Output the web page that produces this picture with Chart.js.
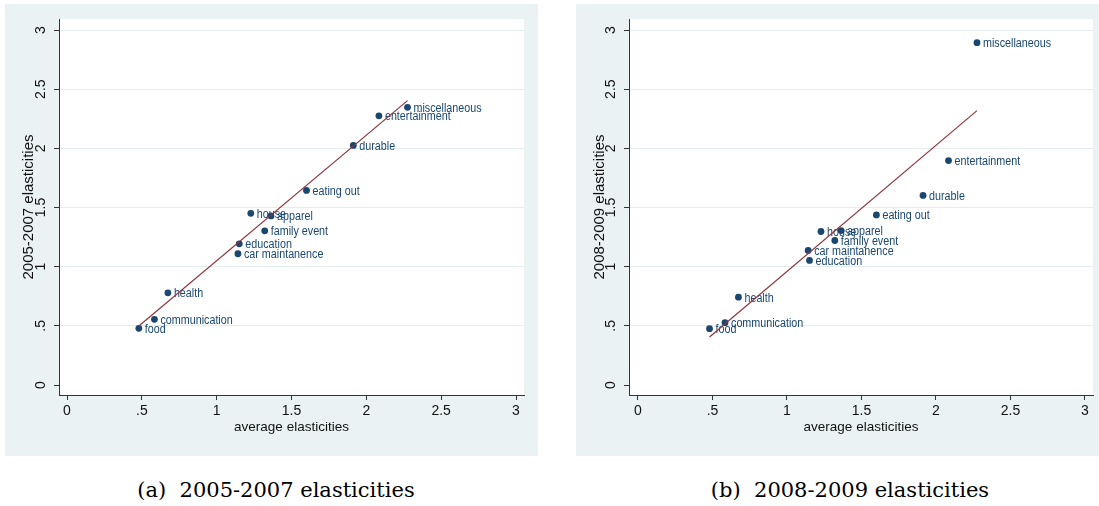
<!DOCTYPE html>
<html>
<head>
<meta charset="utf-8">
<script src="https://cdn.jsdelivr.net/npm/chart.js@4/dist/chart.umd.min.js"></script>
<style>
  html, body { margin: 0; padding: 0; background: #ffffff; width: 1099px; height: 506px; overflow: hidden; position: relative; }
  .panel { position: absolute; top: 4px; width: 533px; height: 452px; background: #eaf2f3; }
  .panel canvas { display: block; }
  .caption { position: absolute; top: 478px; width: 600px; line-height: 24px; text-align: center;
             font-family: "DejaVu Serif", "Liberation Serif", serif; font-size: 21px; color: #000; white-space: pre; }
</style>
</head>
<body>
<div class="panel" style="left:5px"><canvas id="chartA" width="533" height="452"></canvas></div>
<div class="panel" style="left:576px"><canvas id="chartB" width="533" height="452"></canvas></div>
<div class="caption" style="left:-24px">(a)  2005-2007 elasticities</div>
<div class="caption" style="left:550px">(b)  2008-2009 elasticities</div>
<script>
// Expenditure categories and their demand elasticities
const categories = ['food', 'communication', 'health', 'car maintanence', 'education', 'house',
                    'apparel', 'family event', 'eating out', 'durable', 'entertainment', 'miscellaneous'];
const averageElasticities = [0.480, 0.584, 0.674, 1.142, 1.151, 1.228, 1.363, 1.321, 1.600, 1.913, 2.084, 2.275];
const elasticities2005to2007 = [0.479, 0.555, 0.779, 1.109, 1.193, 1.451, 1.429, 1.303, 1.644, 2.025, 2.275, 2.347];
const elasticities2008to2009 = [0.476, 0.527, 0.742, 1.137, 1.053, 1.297, 1.305, 1.221, 1.437, 1.602, 1.897, 2.893];

// Linear fit endpoints (at the smallest and largest average elasticity)
const fitRange = [0.480, 2.275];
const fit2005to2007 = [0.498, 2.403];
const fit2008to2009 = [0.406, 2.319];

// Axis ticks (Stata style labels without leading zero)
const tickValues = [0, 0.5, 1, 1.5, 2, 2.5, 3];
const tickLabels = ['0', '.5', '1', '1.5', '2', '2.5', '3'];

const NAVY = '#1a476f';
const MAROON = '#90353b';
const AXIS = '#333333';
const GRID = '#e3edef';
const TEXT = '#111111';
const SANS = '"Liberation Sans", Arial, sans-serif';

// White plot region inside the tinted graph region
const plotRegion = {
  id: 'plotRegion',
  beforeDraw(chart) {
    const { ctx, chartArea: a } = chart;
    ctx.save();
    ctx.fillStyle = '#ffffff';
    ctx.fillRect(a.left, a.top, a.right - a.left, a.bottom - a.top);
    ctx.restore();
  }
};

// Category names to the right of each marker
const markerLabels = {
  id: 'markerLabels',
  afterDatasetDraw(chart, args) {
    if (chart.data.datasets[args.index].kind !== 'points') return;
    const ctx = chart.ctx;
    const names = chart.data.labels;
    ctx.save();
    ctx.font = '12.5px ' + SANS;
    ctx.fillStyle = NAVY;
    ctx.textAlign = 'left';
    ctx.textBaseline = 'middle';
    args.meta.data.forEach((pt, i) => {
      ctx.save();
      ctx.translate(pt.x + 6, pt.y + 1);
      ctx.scale(0.86, 1);
      ctx.fillText(names[i], 0, 0);
      ctx.restore();
    });
    ctx.restore();
  }
};

function setTicks(scale) {
  scale.ticks = tickValues.map(v => ({ value: v }));
}
function tickText(v) {
  const i = tickValues.indexOf(v);
  return i >= 0 ? tickLabels[i] : '';
}

function makePanel(canvasId, yValues, fitValues, yTitle, frame) {
  const points = averageElasticities.map((x, i) => ({ x: x, y: yValues[i] }));
  const fitLine = fitRange.map((x, i) => ({ x: x, y: fitValues[i] }));
  return new Chart(document.getElementById(canvasId), {
    type: 'scatter',
    data: {
      labels: categories,
      datasets: [
        {
          kind: 'fit',
          data: fitLine,
          showLine: true,
          borderColor: MAROON,
          borderWidth: 1.2,
          pointRadius: 0,
          fill: false
        },
        {
          kind: 'points',
          data: points,
          pointRadius: 3.4,
          pointBackgroundColor: NAVY,
          pointBorderColor: NAVY,
          pointBorderWidth: 0,
          showLine: false
        }
      ]
    },
    options: {
      responsive: false,
      animation: false,
      devicePixelRatio: 1,
      layout: { padding: { top: 15, right: frame.padRight, left: 0, bottom: 0 } },
      plugins: { legend: { display: false }, tooltip: { enabled: false } },
      scales: {
        x: {
          type: 'linear',
          min: frame.xMin,
          max: frame.xMax,
          afterBuildTicks: setTicks,
          afterFit: s => { s.height = 61; },
          grid: { drawOnChartArea: false, drawTicks: true, tickLength: 5, tickColor: AXIS, tickWidth: 1 },
          border: { display: true, color: AXIS, width: 1 },
          ticks: {
            autoSkip: false, minRotation: 0, maxRotation: 0, padding: 3,
            color: TEXT, font: { family: SANS, size: 14 }, callback: tickText
          },
          title: {
            display: true, text: 'average elasticities', color: TEXT,
            font: { family: SANS, size: 13.5 }, padding: { top: 0, bottom: 21 }
          }
        },
        y: {
          type: 'linear',
          min: -0.0845,
          max: 3.093,
          afterBuildTicks: setTicks,
          afterFit: s => { s.width = frame.yWidth; },
          grid: {
            color: c => (c.tick && c.tick.value === 0) ? 'rgba(0,0,0,0)' : GRID,
            lineWidth: 1, drawTicks: true, tickLength: 5, tickColor: AXIS, tickWidth: 1
          },
          border: { display: true, color: AXIS, width: 1 },
          ticks: {
            autoSkip: false, minRotation: 90, maxRotation: 90, crossAlign: 'center', padding: 3,
            color: TEXT, font: { family: SANS, size: 14 }, callback: tickText
          },
          title: {
            display: true, text: yTitle, color: TEXT,
            font: { family: SANS, size: 15 }, padding: { top: 15, bottom: 0 }
          }
        }
      }
    },
    plugins: [plotRegion, markerLabels]
  });
}

makePanel('chartA', elasticities2005to2007, fit2005to2007, '2005-2007 elasticities',
  { yWidth: 54, padRight: 14, xMin: -0.0535, xMax: 3.0534 });
makePanel('chartB', elasticities2008to2009, fit2008to2009, '2008-2009 elasticities',
  { yWidth: 53, padRight: 16, xMin: -0.0604, xMax: 3.0537 });
</script>
</body>
</html>
